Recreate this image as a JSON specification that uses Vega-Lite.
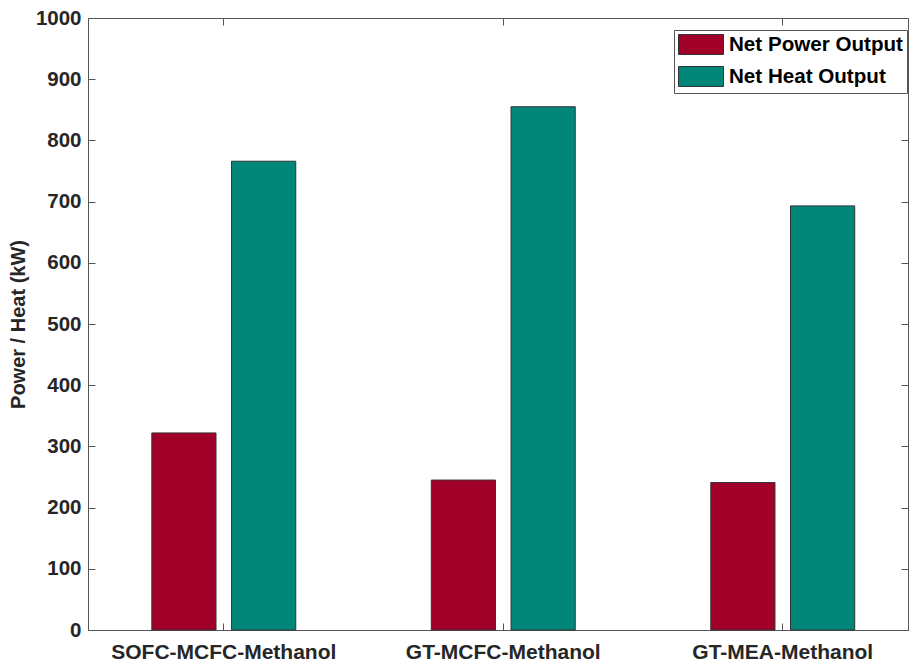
{
  "$schema": "https://vega.github.io/schema/vega-lite/v6.json",
  "width": 820,
  "height": 612,
  "autosize": "none",
  "padding": {"left": 88, "top": 18, "right": 3, "bottom": 33},
  "background": "white",
  "config": {"view": {"stroke": null}, "font": "Liberation Sans"},
  "data": {
    "values": [
      {"system": "SOFC-MCFC-Methanol", "type": "Net Power Output", "value": 322},
      {"system": "SOFC-MCFC-Methanol", "type": "Net Heat Output", "value": 766},
      {"system": "GT-MCFC-Methanol", "type": "Net Power Output", "value": 245},
      {"system": "GT-MCFC-Methanol", "type": "Net Heat Output", "value": 855},
      {"system": "GT-MEA-Methanol", "type": "Net Power Output", "value": 241},
      {"system": "GT-MEA-Methanol", "type": "Net Heat Output", "value": 693}
    ]
  },
  "layer": [
    {
      "mark": {"type": "bar", "stroke": "#333333", "strokeWidth": 1},
      "encoding": {
        "x": {
          "field": "system", "type": "nominal",
          "sort": ["SOFC-MCFC-Methanol", "GT-MCFC-Methanol", "GT-MEA-Methanol"],
          "scale": {"paddingInner": 0.485, "paddingOuter": 0.2095, "align": 0.545},
          "axis": {
            "orient": "bottom", "title": null, "labelAngle": 0, "labelLimit": 0,
            "labelFont": "Liberation Sans", "labelFontWeight": "bold", "labelFontSize": 21,
            "labelColor": "#262626", "tickSize": -7, "labelPadding": 18,
            "domainColor": "#555555", "tickColor": "#555555", "domainWidth": 1
          }
        },
        "xOffset": {
          "field": "type", "type": "nominal",
          "sort": ["Net Power Output", "Net Heat Output"],
          "scale": {"paddingInner": 0.195, "paddingOuter": 0}
        },
        "y": {
          "field": "value", "type": "quantitative",
          "scale": {"domain": [0, 1000], "nice": false},
          "axis": {
            "orient": "left", "title": "Power / Heat (kW)", "grid": false, "format": "d",
            "values": [0, 100, 200, 300, 400, 500, 600, 700, 800, 900, 1000],
            "labelFont": "Liberation Sans", "labelFontWeight": "bold", "labelFontSize": 20.5,
            "labelColor": "#262626", "tickSize": -7, "labelPadding": 14,
            "titleFont": "Liberation Sans", "titleFontWeight": "bold", "titleFontSize": 20,
            "titleColor": "#262626", "titleX": -70, "titleY": 306, "titleAngle": -90,
            "titleBaseline": "middle", "titleAlign": "center",
            "domainColor": "#555555", "tickColor": "#555555"
          }
        },
        "color": {
          "field": "type", "type": "nominal",
          "scale": {"domain": ["Net Power Output", "Net Heat Output"], "range": ["#A10028", "#00877A"]},
          "legend": {
            "title": null, "orient": "none", "legendX": 586, "legendY": 12,
            "strokeColor": "#555555", "fillColor": "white", "padding": 4,
            "symbolType": "M-1,-1L3.5,-1L3.5,1L-1,1Z", "symbolSize": 400,
            "symbolStrokeColor": "#333333", "symbolStrokeWidth": 1, "symbolOpacity": 1,
            "labelFont": "Liberation Sans", "labelFontSize": 20.6, "labelFontWeight": "bold",
            "labelColor": "black", "labelOffset": 30, "rowPadding": 7, "labelLimit": 0
          }
        }
      }
    },
    {
      "mark": {"type": "bar", "opacity": 0},
      "encoding": {
        "x": {
          "field": "system", "type": "nominal",
          "sort": ["SOFC-MCFC-Methanol", "GT-MCFC-Methanol", "GT-MEA-Methanol"],
          "axis": {"orient": "top", "title": null, "labels": false, "tickSize": -7,
                   "domainColor": "#555555", "tickColor": "#555555"}
        },
        "xOffset": {
          "field": "type", "type": "nominal",
          "sort": ["Net Power Output", "Net Heat Output"]
        },
        "y": {
          "field": "value", "type": "quantitative",
          "axis": {"orient": "right", "title": null, "labels": false, "grid": false,
                   "values": [0, 100, 200, 300, 400, 500, 600, 700, 800, 900, 1000],
                   "tickSize": -7, "domainColor": "#555555", "tickColor": "#555555"}
        }
      }
    }
  ],
  "resolve": {"axis": {"x": "independent", "y": "independent"}}
}
